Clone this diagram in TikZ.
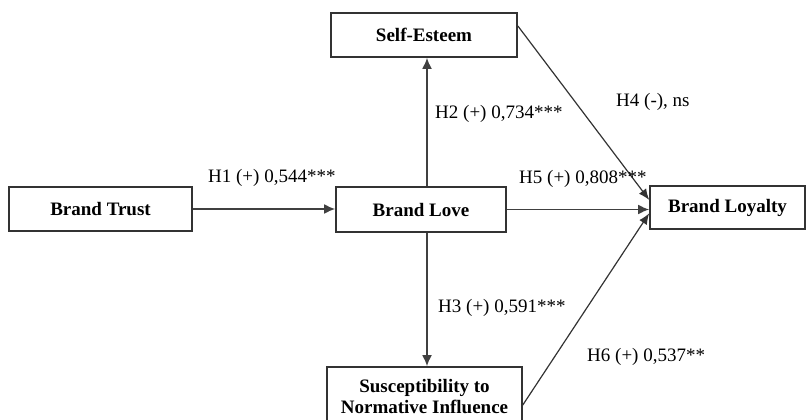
\documentclass[tikz,border=0pt]{standalone}
\usepackage{fontspec}
\setmainfont{Liberation Serif}
\usetikzlibrary{arrows.meta,calc}
\begin{document}
\begin{tikzpicture}[x=1pt,y=-1pt,
  box/.style={draw=black!80,line width=1.6pt,fill=white,inner sep=0pt,align=center,
    font=\fontsize{19}{21}\selectfont\bfseries},
  conn/.style={draw=black!75,line width=1.8pt,-{Latex[length=11pt,width=10pt]}},
  thin/.style={draw=black!80,line width=1.2pt,-{Latex[length=11pt,width=9pt]}},
  lbl/.style={inner sep=0pt,anchor=base west,font=\fontsize{19}{21}\selectfont}]
\useasboundingbox (0,0) rectangle (808,420);
\begin{scope}
\clip (0,0) rectangle (808,420);
\node[box,minimum width=186pt,minimum height=44pt] (se) at (424,35) {Self-Esteem};
\node[box,minimum width=183pt,minimum height=44pt] (bt) at (100.5,209) {Brand Trust};
\node[box,minimum width=170pt,minimum height=45pt] (bl) at (421,209.5) {Brand Love};
\node[box,minimum width=155pt,minimum height=43pt] (bly) at (727.5,207.5) {Brand Loyalty};
\node[box,minimum width=195pt,minimum height=59pt] (sn) at (424.5,396.5) {Susceptibility to\\Normative Influence};
\coordinate (vx) at (427,0);
\draw[conn] (bt.east) -- (bt.east -| bl.west);
\draw[conn] (bl.north -| vx) -- (se.south -| vx);
\draw[conn] (bl.south -| vx) -- (sn.north -| vx);
\draw[conn] (bl.east) -- (bl.east -| bly.west);
\draw[thin] ($(se.north east)!0.3!(se.south east)$) -- ($(bly.north west)!0.33!(bly.south west)$);
\draw[thin] ($(sn.north east)!0.64!(sn.south east)$) -- ($(bly.north west)!0.63!(bly.south west)$);
\node[lbl] (l1) at (208,182) {H1 (+) 0,544***};
\node[lbl] (l2) at (435,118) {H2 (+) 0,734***};
\node[lbl] (l3) at (438,312.5) {H3 (+) 0,591***};
\node[lbl] (l4) at (616,106) {H4 (-), ns};
\node[lbl] (l5) at (519,183) {H5 (+) 0,808***};
\node[lbl] (l6) at (587,361) {H6 (+) 0,537**};
\end{scope}
\end{tikzpicture}
\end{document}
